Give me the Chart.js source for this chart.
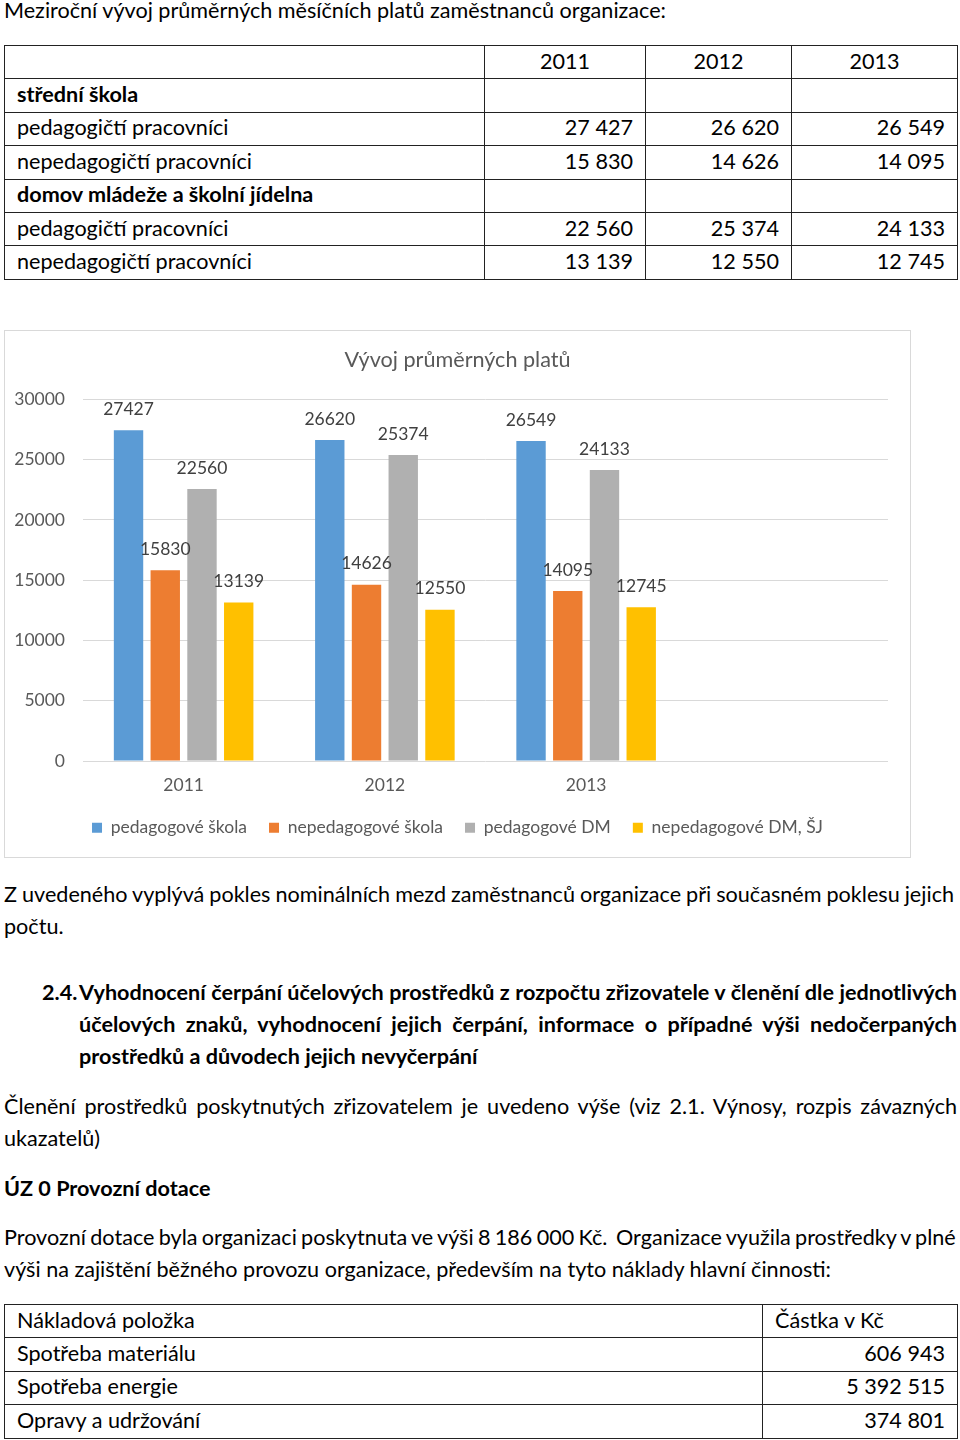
<!DOCTYPE html>
<html lang="cs">
<head>
<meta charset="utf-8">
<title>Vývoj průměrných platů</title>
<script src="https://cdn.jsdelivr.net/npm/chart.js@4.4.1/dist/chart.umd.min.js"></script>
<style>
  html, body { margin: 0; padding: 0; background: #fff; }
  body {
    width: 960px; height: 1440px; position: relative; overflow: hidden;
    font-family: Lato, "Open Sans", sans-serif; font-size: 21.6px; color: #000;
  }
  .ln { position: absolute; left: 4px; line-height: 32px; white-space: nowrap; }
  .b { font-weight: bold; }
  table { position: absolute; left: 4px; border-collapse: collapse; table-layout: fixed; }
  td { border: 1px solid #222; padding: 0 12px 3px 12px; white-space: nowrap; line-height: 24px; }
  td.num { text-align: right; }
  td.yr { text-align: center; }
  #chartBox {
    position: absolute; left: 4px; top: 330px; width: 905px; height: 526px;
    border: 1px solid #d9d9d9; background: #fff;
  }
</style>
</head>
<body>

<div class="ln" style="top:-6px">Meziroční vývoj průměrných měsíčních platů zaměstnanců organizace:</div>

<table id="salaryTable" style="top:45px; width:953px">
  <colgroup><col style="width:480px"><col style="width:161px"><col style="width:146px"><col style="width:166px"></colgroup>
  <tbody></tbody>
</table>

<div id="chartBox"><canvas id="chart"></canvas></div>

<div class="ln fit" data-w="950" style="top:878px">Z uvedeného vyplývá pokles nominálních mezd zaměstnanců organizace při současném poklesu jejich</div>
<div class="ln" style="top:910px">počtu.</div>

<div class="ln b" style="top:976px; left:42px">2.4.</div>
<div class="ln b fit" data-w="878" style="top:976px; left:79px">Vyhodnocení čerpání účelových prostředků z rozpočtu zřizovatele v členění dle jednotlivých</div>
<div class="ln b fit" data-w="878" style="top:1008px; left:79px">účelových znaků, vyhodnocení jejich čerpání, informace o případné výši nedočerpaných</div>
<div class="ln b" style="top:1040px; left:79px">prostředků a důvodech jejich nevyčerpání</div>

<div class="ln fit" data-w="953" style="top:1090px">Členění prostředků poskytnutých zřizovatelem je uvedeno výše (viz 2.1. Výnosy, rozpis závazných</div>
<div class="ln" style="top:1122px">ukazatelů)</div>

<div class="ln b" style="top:1172px">ÚZ 0 Provozní dotace</div>

<div class="ln fit" data-w="953" style="top:1221px">Provozní dotace byla organizaci poskytnuta ve výši 8 186 000 Kč.&nbsp; Organizace využila prostředky v plné</div>
<div class="ln" style="top:1253px">výši na zajištění běžného provozu organizace, především na tyto náklady hlavní činnosti:</div>

<table id="costTable" style="top:1304px; width:953px">
  <colgroup><col style="width:758px"><col style="width:195px"></colgroup>
  <tbody></tbody>
</table>

<script>
// roky a hodnoty z grafu
const years = ['2011', '2012', '2013', ''];
const pedSkola = [27427, 26620, 26549, null];
const nepedSkola = [15830, 14626, 14095, null];
const pedDM = [22560, 25374, 24133, null];
const nepedDM = [13139, 12550, 12745, null];

const seriesNames = ['pedagogové škola', 'nepedagogové škola', 'pedagogové DM', 'nepedagogové DM, ŠJ'];
const seriesColors = ['#5B9BD5', '#ED7D31', '#B0B0B0', '#FFC000'];
const yMax = 30000;
const yStep = 5000;

// tabulka nákladů
const costHeader = ['Nákladová položka', 'Částka v Kč'];
const costItems = ['Spotřeba materiálu', 'Spotřeba energie', 'Opravy a udržování'];
const costValues = [606943, 5392515, 374801];

const ROW_H = 33.4;
const CHART_FONT = 'Lato';
const fmt = n => String(n).replace(/\B(?=(\d{3})+(?!\d))/g, ' ');

function addRow(tbody, cells) {
    const tr = document.createElement('tr');
    tr.style.height = ROW_H + 'px';
    cells.forEach(c => {
        const td = document.createElement('td');
        td.textContent = c.text;
        if (c.cls) td.className = c.cls;
        if (c.bold) td.style.fontWeight = 'bold';
        tr.appendChild(td);
    });
    tbody.appendChild(tr);
}

function buildTables() {
    const t1 = document.querySelector('#salaryTable tbody');
    const yrs = years.slice(0, 3);
    addRow(t1, [{ text: '' }].concat(yrs.map(y => ({ text: y, cls: 'yr' }))));
    const groups = [
        ['střední škola', pedSkola, nepedSkola],
        ['domov mládeže a školní jídelna', pedDM, nepedDM]
    ];
    groups.forEach(([title, ped, neped]) => {
        addRow(t1, [{ text: title, bold: true }, { text: '' }, { text: '' }, { text: '' }]);
        addRow(t1, [{ text: 'pedagogičtí pracovníci' }].concat(yrs.map((y, i) => ({ text: fmt(ped[i]), cls: 'num' }))));
        addRow(t1, [{ text: 'nepedagogičtí pracovníci' }].concat(yrs.map((y, i) => ({ text: fmt(neped[i]), cls: 'num' }))));
    });

    const t2 = document.querySelector('#costTable tbody');
    addRow(t2, [{ text: costHeader[0] }, { text: costHeader[1] }]);
    costItems.forEach((name, i) => addRow(t2, [{ text: name }, { text: fmt(costValues[i]), cls: 'num' }]));
}

// roztažení zarovnaných řádků na plnou šířku
function fitLines() {
    document.querySelectorAll('.fit').forEach(el => {
        const target = +el.dataset.w;
        const spaces = (el.textContent.match(/ /g) || []).length;
        const extra = target - el.getBoundingClientRect().width;
        if (spaces) el.style.wordSpacing = (extra / spaces) + 'px';
    });
}

const dataLabels = {
    id: 'dataLabels',
    afterDatasetsDraw(chart) {
        const ctx = chart.ctx;
        ctx.save();
        ctx.font = '17.5px ' + CHART_FONT;
        ctx.fillStyle = '#404040';
        ctx.textAlign = 'center';
        ctx.textBaseline = 'middle';
        chart.data.datasets.forEach((ds, i) => {
            chart.getDatasetMeta(i).data.forEach((bar, j) => {
                if (ds.data[j] == null) return;
                ctx.fillText(ds.data[j], bar.x, bar.y - 21);
            });
        });
        ctx.restore();
    }
};

function drawChart() {
    const values = [pedSkola, nepedSkola, pedDM, nepedDM];
    const tickFont = { family: CHART_FONT, size: 17.5 };
    new Chart(document.getElementById('chart'), {
        type: 'bar',
        data: {
            labels: years,
            datasets: values.map((v, i) => ({
                label: seriesNames[i],
                data: v,
                backgroundColor: seriesColors[i],
                categoryPercentage: 0.73,
                barPercentage: 0.8
            }))
        },
        options: {
            responsive: false,
            animation: false,
            devicePixelRatio: 1,
            layout: { padding: { left: 0, right: 0, top: 0, bottom: 10.5 } },
            plugins: {
                title: {
                    display: true,
                    text: 'Vývoj průměrných platů',
                    color: '#595959',
                    font: { family: CHART_FONT, size: 21.6, weight: 'normal' },
                    padding: { top: 16, bottom: 26.4 }
                },
                legend: {
                    position: 'bottom',
                    labels: {
                        color: '#595959',
                        font: tickFont,
                        boxWidth: 10,
                        boxHeight: 10,
                        padding: 22
                    }
                },
                tooltip: { enabled: false }
            },
            scales: {
                x: {
                    grid: { display: false, drawTicks: false },
                    border: { display: false },
                    ticks: { color: '#595959', font: tickFont, padding: 14, autoSkip: false, maxRotation: 0 },
                    afterFit: s => { s.height = 36; }
                },
                y: {
                    min: 0,
                    max: yMax,
                    grid: { color: '#d9d9d9', drawTicks: false },
                    border: { display: false },
                    ticks: {
                        stepSize: yStep, color: '#595959', font: tickFont, padding: 18,
                        callback: v => String(v)
                    },
                    afterFit: s => { s.width = 78; }
                },
                // prázdná pravá osa jen kvůli okraji vpravo
                yRight: {
                    position: 'right',
                    display: true,
                    grid: { display: false },
                    border: { display: false },
                    ticks: { display: false },
                    afterFit: s => { s.width = 22; }
                }
            }
        },
        plugins: [dataLabels]
    });
}

window.onload = () => {
    buildTables();
    fitLines();
    const cv = document.getElementById('chart');
    cv.width = 905;
    cv.height = 526;
    drawChart();
};
</script>
</body>
</html>
